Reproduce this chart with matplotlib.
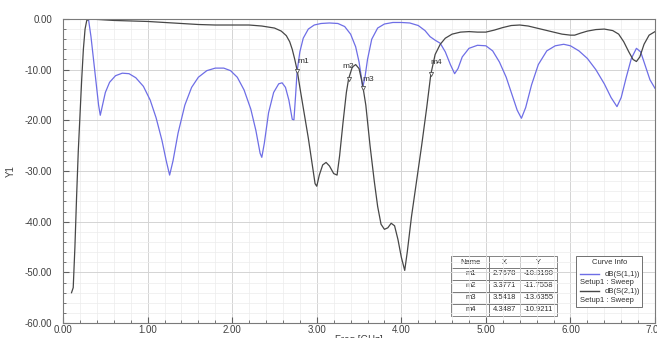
#!/usr/bin/env python3
# -*- coding: utf-8 -*-
"""
Recreates an HFSS style S-parameter plot (dB(S11), dB(S21) vs frequency).
"""

import matplotlib
matplotlib.use('Agg')
import matplotlib.pyplot as plt
from matplotlib.ticker import MultipleLocator, FormatStrFormatter

plt.rcParams['font.family'] = ['Liberation Sans', 'DejaVu Sans']

# dB(S(1,1))
s11_freq = [0.30, 0.33, 0.36, 0.39, 0.42, 0.44, 0.46, 0.50, 0.55, 0.62, 0.70,
            0.78, 0.86, 0.95, 1.03, 1.10, 1.17, 1.22, 1.26, 1.30, 1.36, 1.44,
            1.52, 1.60, 1.70, 1.80, 1.90, 1.98, 2.06, 2.14, 2.22, 2.28, 2.33,
            2.35, 2.38, 2.43, 2.49, 2.55, 2.59, 2.63, 2.67, 2.71, 2.73, 2.75,
            2.7678, 2.80, 2.84, 2.90, 2.97, 3.05, 3.15, 3.25, 3.33, 3.40, 3.46,
            3.50, 3.53, 3.5418, 3.57, 3.60, 3.65, 3.72, 3.80, 3.90, 4.00, 4.10,
            4.20, 4.28, 4.34, 4.40, 4.46, 4.52, 4.58, 4.63, 4.67, 4.72, 4.80,
            4.90, 5.00, 5.08, 5.16, 5.24, 5.31, 5.37, 5.42, 5.47, 5.54, 5.62,
            5.72, 5.82, 5.92, 6.00, 6.10, 6.20, 6.30, 6.40, 6.48, 6.55, 6.60,
            6.66, 6.72, 6.78, 6.83, 6.88, 6.94, 7.00]
s11_db = [0.0, -3.5, -8.0, -12.5, -17.0, -19.0, -17.5, -14.5, -12.5, -11.2,
          -10.7, -10.8, -11.6, -13.3, -16.0, -19.5, -24.0, -28.0, -30.8, -28.0,
          -22.5, -17.0, -13.5, -11.5, -10.2, -9.7, -9.7, -10.2, -11.5, -14.0,
          -17.8, -22.0, -26.5, -27.3, -24.5, -18.5, -14.5, -12.8, -12.6, -13.5,
          -16.0, -19.8, -19.9, -15.0, -10.3, -6.5, -3.8, -2.0, -1.2, -0.9,
          -0.8, -0.9, -1.5, -3.0, -5.5, -8.5, -11.8, -13.6, -11.5, -8.0, -4.0,
          -1.8, -1.0, -0.7, -0.7, -0.8, -1.3, -2.3, -3.5, -4.2, -4.8, -6.5,
          -9.0, -10.8, -9.8, -7.5, -5.8, -5.2, -5.3, -6.3, -8.5, -11.5, -15.0,
          -18.0, -19.6, -17.5, -13.0, -9.0, -6.3, -5.3, -5.0, -5.3, -6.3, -7.8,
          -10.0, -12.8, -15.5, -17.3, -15.5, -11.5, -7.8, -5.8, -6.5, -9.0,
          -12.0, -13.7]

# dB(S(2,1))
s21_freq = [0.10, 0.12, 0.14, 0.16, 0.18, 0.20, 0.22, 0.24, 0.26, 0.28, 0.32,
            0.40, 0.50, 0.60, 0.80, 1.00, 1.20, 1.40, 1.60, 1.80, 2.00, 2.20,
            2.35, 2.50, 2.58, 2.64, 2.68, 2.71, 2.74, 2.77, 2.80, 2.85, 2.90,
            2.94, 2.98, 3.00, 3.03, 3.07, 3.11, 3.15, 3.20, 3.24, 3.27, 3.31,
            3.35, 3.3771, 3.42, 3.46, 3.50, 3.54, 3.58, 3.63, 3.68, 3.72, 3.76,
            3.80, 3.84, 3.88, 3.92, 3.96, 4.00, 4.04, 4.07, 4.12, 4.18, 4.24,
            4.30, 4.3487, 4.40, 4.46, 4.52, 4.60, 4.70, 4.80, 4.90, 5.00, 5.10,
            5.20, 5.30, 5.40, 5.50, 5.60, 5.70, 5.80, 5.90, 6.00, 6.05, 6.12,
            6.20, 6.30, 6.40, 6.50, 6.57, 6.63, 6.69, 6.74, 6.78, 6.82, 6.87,
            6.93, 7.00]
s21_db = [-54.0, -53.0, -45.0, -35.0, -26.0, -19.0, -12.0, -6.0, -2.0, -0.3,
          0.0, -0.1, -0.2, -0.3, -0.4, -0.5, -0.7, -0.9, -1.1, -1.2, -1.2,
          -1.2, -1.4, -1.8, -2.4, -3.3, -4.5, -6.0, -8.0, -10.3, -13.5, -18.5,
          -23.5, -28.0, -32.5, -33.0, -30.8, -28.8, -28.3, -29.0, -30.5, -30.8,
          -27.0, -20.5, -14.5, -11.76, -9.5, -9.0, -9.8, -12.8, -17.0, -25.0,
          -32.0, -37.0, -40.5, -41.5, -41.2, -40.3, -40.8, -43.5, -47.0, -49.6,
          -46.0, -39.0, -32.0, -25.0, -17.5, -10.92, -7.0, -5.0, -3.8, -3.0,
          -2.6, -2.5, -2.6, -2.6, -2.2, -1.7, -1.3, -1.2, -1.4, -1.8, -2.2,
          -2.6, -3.0, -3.2, -3.2, -2.8, -2.4, -2.1, -2.0, -2.3, -3.0, -4.5,
          -6.5, -8.0, -8.4, -7.5, -5.0, -3.2, -2.5]

# markers
marker_names = ['m1', 'm2', 'm3', 'm4']
marker_x = [2.7678, 3.3771, 3.5418, 4.3487]
marker_y = [-10.3190, -11.7558, -13.6355, -10.9211]

curve_names = ['dB(S(1,1))', 'dB(S(2,1))']
curve_colors = ['#6e6ee6', '#474747']


def plot_sparams(file_out):
    """
    Draws both curves, markers, marker table and curve info box
    """
    figure = plt.figure(figsize=(6.57, 3.38), dpi=100)
    axes = figure.add_axes([0.096, 0.044, 0.901, 0.900])

    axes.plot(s11_freq, s11_db, color=curve_colors[0], linewidth=0.9)
    axes.plot(s21_freq, s21_db, color=curve_colors[1], linewidth=0.9)

    axes.set_xlim(0, 7)
    axes.set_ylim(-60, 0)
    axes.xaxis.set_major_locator(MultipleLocator(1))
    axes.xaxis.set_minor_locator(MultipleLocator(0.2))
    axes.yaxis.set_major_locator(MultipleLocator(10))
    axes.yaxis.set_minor_locator(MultipleLocator(2))
    axes.xaxis.set_major_formatter(FormatStrFormatter('%.2f'))
    axes.yaxis.set_major_formatter(FormatStrFormatter('%.2f'))
    axes.grid(which='major', color='#d4d4d4', linewidth=0.7)
    axes.grid(which='minor', color='#ececec', linewidth=0.5)
    axes.set_axisbelow(True)
    axes.tick_params(which='both', direction='in', colors='#606060',
                     labelsize=7, labelcolor='#404040')
    axes.tick_params(which='major', length=4)
    axes.tick_params(which='minor', length=2.5)
    axes.tick_params(axis='x', which='major', pad=1)
    axes.tick_params(axis='y', which='major', pad=8)
    for spine in axes.spines.values():
        spine.set_color('#7a7a7a')
        spine.set_linewidth(0.8)

    axes.set_xlabel('Freq [GHz]', fontsize=7, color='#404040', labelpad=0)
    axes.set_ylabel('Y1', fontsize=7, color='#404040', labelpad=6)

    # markers
    axes.plot(marker_x, marker_y, linestyle='none', marker='v', markersize=3,
              markerfacecolor='white', markeredgecolor='#505050',
              markeredgewidth=0.6)
    offsets = [(0.0, 1.2), (-0.08, 1.6), (0.0, 0.9), (0.0, 1.6)]
    for name, x, y, off in zip(marker_names, marker_x, marker_y, offsets):
        axes.text(x + off[0], y + off[1], name, fontsize=6, color='#303030',
                  ha='left', va='bottom')

    # marker table
    cells = [[n, '%.4f' % x, '%.4f' % y]
             for n, x, y in zip(marker_names, marker_x, marker_y)]
    table = axes.table(cellText=cells, colLabels=['Name', 'X', 'Y'],
                       cellLoc='center', colWidths=[0.36, 0.29, 0.35],
                       bbox=[0.656, 0.025, 0.178, 0.195])
    table.auto_set_font_size(False)
    table.set_fontsize(5.5)
    for cell in table.get_celld().values():
        cell.set_edgecolor('#707070')
        cell.set_linewidth(0.6)
        cell.get_text().set_color('#303030')

    # curve info box
    box = plt.Rectangle((0.867, 0.053), 0.111, 0.167, transform=axes.transAxes,
                        facecolor='white', edgecolor='#707070', linewidth=0.7,
                        zorder=5)
    axes.add_patch(box)
    axes.text(0.9225, 0.200, 'Curve Info', transform=axes.transAxes,
              fontsize=5.5, ha='center', va='center', color='#303030',
              zorder=6)
    for i, (name, color) in enumerate(zip(curve_names, curve_colors)):
        y0 = 0.161 - i * 0.056
        axes.plot([0.874, 0.905], [y0, y0], transform=axes.transAxes,
                  color=color, linewidth=1.0, zorder=6)
        axes.text(0.975, y0, name, transform=axes.transAxes, fontsize=5.5,
                  ha='right', va='center', color='#303030', zorder=6)
        axes.text(0.873, y0 - 0.029, 'Setup1 : Sweep',
                  transform=axes.transAxes, fontsize=5.5, ha='left',
                  va='center', color='#303030', zorder=6)

    figure.savefig(file_out, dpi=100)
    plt.close(figure)


if __name__ == '__main__':
    plot_sparams('out.png')
